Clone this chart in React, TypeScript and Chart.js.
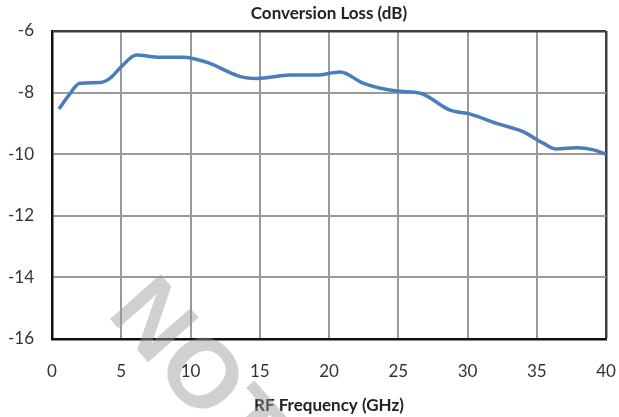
import React, { useEffect, useRef } from "react";
import { Chart, registerables } from "chart.js";

Chart.register(...registerables);

const titleText = "Conversion Loss (dB)";
const xTitle = "RF Frequency (GHz)";
const watermark = "NOT";

const freqGHz = [0.5, 1.2, 2.0, 3.5, 4.2, 5.0, 6.1, 7.6, 9.5, 11.2, 13.6, 14.8, 17.2, 19.1, 20.8, 22.5, 24.9, 26.6, 28.7, 30.2, 32.1, 34.0, 35.5, 36.4, 37.9, 39.1, 40.0];
const lossDb = [-8.53, -8.1, -7.7, -7.67, -7.53, -7.16, -6.78, -6.85, -6.85, -7.02, -7.48, -7.54, -7.43, -7.43, -7.33, -7.7, -7.95, -8.02, -8.56, -8.7, -9.0, -9.27, -9.65, -9.83, -9.79, -9.86, -10.0];

const xMin = 0, xMax = 40, xStep = 5;
const yMin = -16, yMax = -6, yStep = 2;

const FONT = "Lato, 'Open Sans', sans-serif";

export default function App() {
  const ref = useRef<HTMLCanvasElement>(null);
  useEffect(() => {
    if (!ref.current) return;
    const wm = {
      id: "wm",
      afterDraw(chart: any) {
        const ctx = chart.ctx;
        ctx.save();
        ctx.translate(126, 296);
        ctx.rotate(Math.PI * 0.27);
        ctx.font = "bold 98px 'Liberation Sans', sans-serif";
        ctx.fillStyle = "rgba(150,150,150,0.45)";
        ctx.textAlign = "left";
        ctx.textBaseline = "middle";
        ctx.fillText(watermark, 0, 0);
        ctx.restore();
      },
    };
    const chart = new Chart(ref.current, {
      type: "line",
      data: {
        datasets: [
          {
            data: freqGHz.map((x, i) => ({ x, y: lossDb[i] })),
            borderColor: "#4a7dbb",
            borderWidth: 3.5,
            pointRadius: 0,
            tension: 0.4,
            cubicInterpolationMode: "monotone",
            fill: false,
          },
        ],
      },
      options: {
        animation: false,
        responsive: false,
        devicePixelRatio: 1,
        layout: { padding: { left: 0, right: 13, top: 0, bottom: 0 } },
        plugins: {
          legend: { display: false },
          tooltip: { enabled: false },
          title: {
            display: true,
            text: titleText,
            fullSize: false,
            color: "#222",
            font: { family: FONT, size: 17, weight: "bold", lineHeight: 1.2 },
            padding: { top: 3, bottom: 7.6 },
          },
        },
        scales: {
          x: {
            type: "linear",
            min: xMin,
            max: xMax,
            afterFit(s: any) { s.height = 78; s.paddingLeft = 0; s.paddingRight = 0; },
            ticks: { stepSize: xStep, color: "#333", padding: 22, font: { family: FONT, size: 17 } },
            grid: {
              drawTicks: false,
              color: (c: any) => (c.tick && c.tick.value === xMax ? "#404040" : "#9a9a9a"),
              lineWidth: (c: any) => (c.tick && c.tick.value === xMax ? 2.5 : 2),
            },
            border: { color: "#111", width: 2.5 },
            title: {
              display: true,
              text: xTitle,
              color: "#222",
              font: { family: FONT, size: 17, weight: "bold", lineHeight: 1.2 },
              padding: { top: 0, bottom: 1.5 },
            },
          },
          y: {
            type: "linear",
            min: yMin,
            max: yMax,
            afterFit(s: any) { s.width = 52; s.paddingTop = 0; s.paddingBottom = 0; },
            ticks: { stepSize: yStep, color: "#333", padding: 18, font: { family: FONT, size: 17 } },
            grid: {
              drawTicks: false,
              color: (c: any) => (c.tick && c.tick.value === yMax ? "#404040" : "#9a9a9a"),
              lineWidth: (c: any) => (c.tick && c.tick.value === yMax ? 2.5 : 2),
            },
            border: { color: "#111", width: 2.5 },
          },
        },
      },
      plugins: [wm],
    } as any);
    return () => chart.destroy();
  }, []);
  return (
    <div style={{ position: "fixed", left: 0, top: 0, width: 619, height: 417, background: "#fff" }}>
      <canvas ref={ref} width={619} height={417} style={{ display: "block" }} />
    </div>
  );
}
